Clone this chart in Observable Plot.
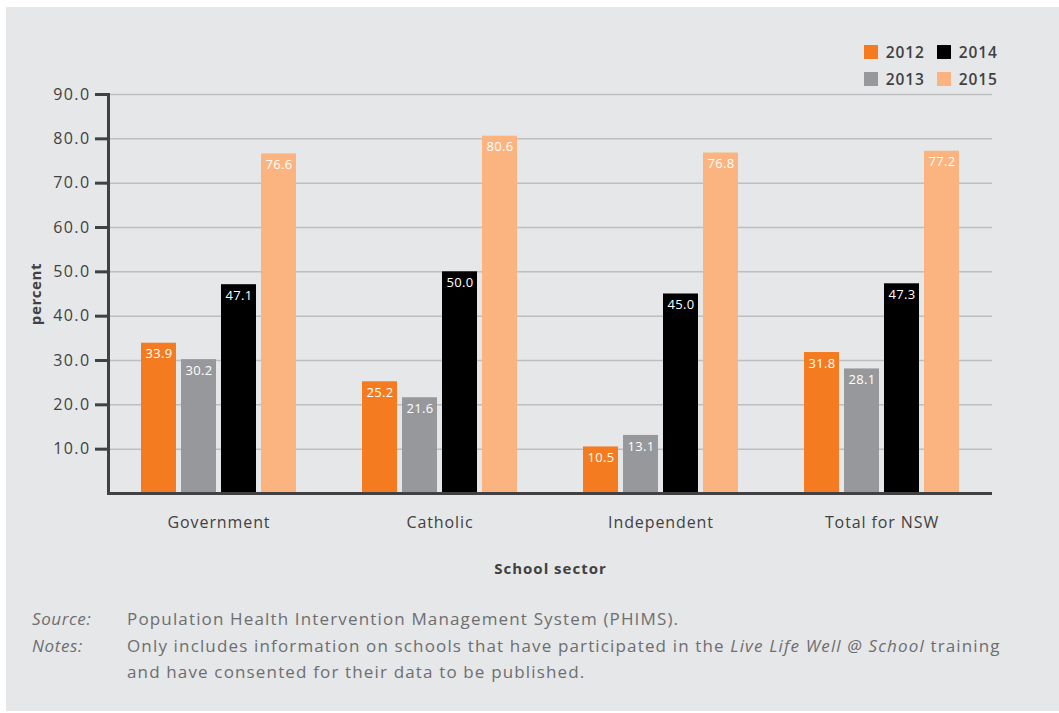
<!DOCTYPE html>
<html>
<head>
<meta charset="utf-8">
<script src="https://cdn.jsdelivr.net/npm/d3@7"></script>
<script src="https://cdn.jsdelivr.net/npm/@observablehq/plot@0.6"></script>
<style>
  html, body { margin: 0; padding: 0; background: #ffffff; }
  #panel { position: absolute; left: 6px; top: 7px; width: 1053px; height: 704px; background: #e6e7e8; overflow: hidden; font-family: "Open Sans", sans-serif; }
  #chart { position: absolute; left: 0; top: 0; }
  #legend { position: absolute; left: 858px; top: 32px; }
  #legend * { overflow: visible !important; max-width: none !important; text-overflow: clip !important; }
  #footer { position: absolute; left: 26px; top: 599px; font-size: 17px; letter-spacing: 1.15px; color: #6d6e71; line-height: 26.5px; }
  #footer .row { display: flex; }
  #footer .lab { width: 95px; font-style: italic; letter-spacing: 0.6px; }
</style>
</head>
<body>
<div id="panel">
  <div id="chart"></div>
  <div id="legend"></div>
  <div id="footer">
    <div class="row"><div class="lab">Source:</div><div>Population Health Intervention Management System (PHIMS).</div></div>
    <div class="row"><div class="lab">Notes:</div><div>Only includes information on schools that have participated in the <i>Live Life Well @ School</i> training<br>and have consented for their data to be published.</div></div>
  </div>
</div>
<script>
const sectors = ["Government", "Catholic", "Independent", "Total for NSW"];
const years = ["2012", "2013", "2014", "2015"];
const v2012 = [33.9, 25.2, 10.5, 31.8];
const v2013 = [30.2, 21.6, 13.1, 28.1];
const v2014 = [47.1, 50.0, 45.0, 47.3];
const v2015 = [76.6, 80.6, 76.8, 77.2];
const yTicks = [10, 20, 30, 40, 50, 60, 70, 80, 90];
const colors = ["#f47b20", "#97989b", "#000000", "#fbb47f"];

const series = [v2012, v2013, v2014, v2015];
const data = [];
sectors.forEach((s, i) => years.forEach((y, j) => data.push({sector: s, year: y, value: series[j][i]})));

const textColor = "#414042";

const chart = Plot.plot({
  width: 1053,
  height: 580,
  marginLeft: 101,
  marginRight: 67,
  marginTop: 87,
  marginBottom: 94,
  style: {background: "transparent", fontFamily: "Open Sans, sans-serif", color: textColor, overflow: "visible"},
  fx: {domain: sectors, padding: 0, label: null},
  x: {domain: years, paddingInner: 0.125, paddingOuter: 0.825, align: 0.5, axis: null},
  y: {domain: [0, 90], label: null},
  color: {domain: years, range: colors},
  marks: [
    Plot.gridY(yTicks, {stroke: "#bdbec0", strokeOpacity: 1, strokeWidth: 1.5}),
    Plot.barY(data, {fx: "sector", x: "year", y: "value", fill: "year"}),
    Plot.text(data, {fx: "sector", x: "year", y: "value", text: d => d.value.toFixed(1), fill: "#ffffff", dy: 11, fontSize: 13, fontWeight: 400}),
    Plot.ruleY([0], {stroke: "#414042", strokeWidth: 3}),
    Plot.axisY(yTicks, {tickFormat: d => d.toFixed(1), tickSize: 13, tickPadding: 5, strokeWidth: 3, stroke: "#414042", fontSize: 16, fill: textColor, label: "percent", labelArrow: "none", labelAnchor: "center", labelOffset: 78}),
    Plot.frame({anchor: "left", facetAnchor: "left", stroke: "#414042", strokeWidth: 3}),
    Plot.axisFx({anchor: "bottom", tickSize: 0, tickPadding: 23, fontSize: 16, fill: textColor, label: "School sector", labelAnchor: "center", labelOffset: 80})
  ]
});
document.getElementById("chart").appendChild(chart);

// typographic tweaks to approximate the original's wide geometric typeface
chart.querySelectorAll("text").forEach(t => {
  const s = t.textContent.replace(/[→↑←↓]/g, "").trim();
  if (s === "percent" || s === "School sector") {
    t.textContent = s;
    t.setAttribute("font-weight", "bold");
    t.setAttribute("font-size", "15");
    t.setAttribute("letter-spacing", s === "percent" ? "0.6" : "1");
  }
});
chart.querySelectorAll("[aria-label='fx-axis tick label'] text").forEach(t => t.setAttribute("letter-spacing", "0.9"));
chart.querySelectorAll("[aria-label='y-axis tick label'] text").forEach(t => t.setAttribute("letter-spacing", "1.4"));
chart.querySelectorAll("[aria-label='text'] text").forEach(t => t.setAttribute("letter-spacing", "0.3"));

const legend = Plot.legend({
  color: {domain: years, range: colors},
  legend: "swatches",
  columns: 2,
  swatchSize: 14,
  style: {fontFamily: "Open Sans, sans-serif", fontSize: "15.5px", fontWeight: "600", letterSpacing: "0.9px", color: textColor, width: "138px", columnGap: "8px", lineHeight: "26px"}
});
document.getElementById("legend").appendChild(legend);
</script>
</body>
</html>
